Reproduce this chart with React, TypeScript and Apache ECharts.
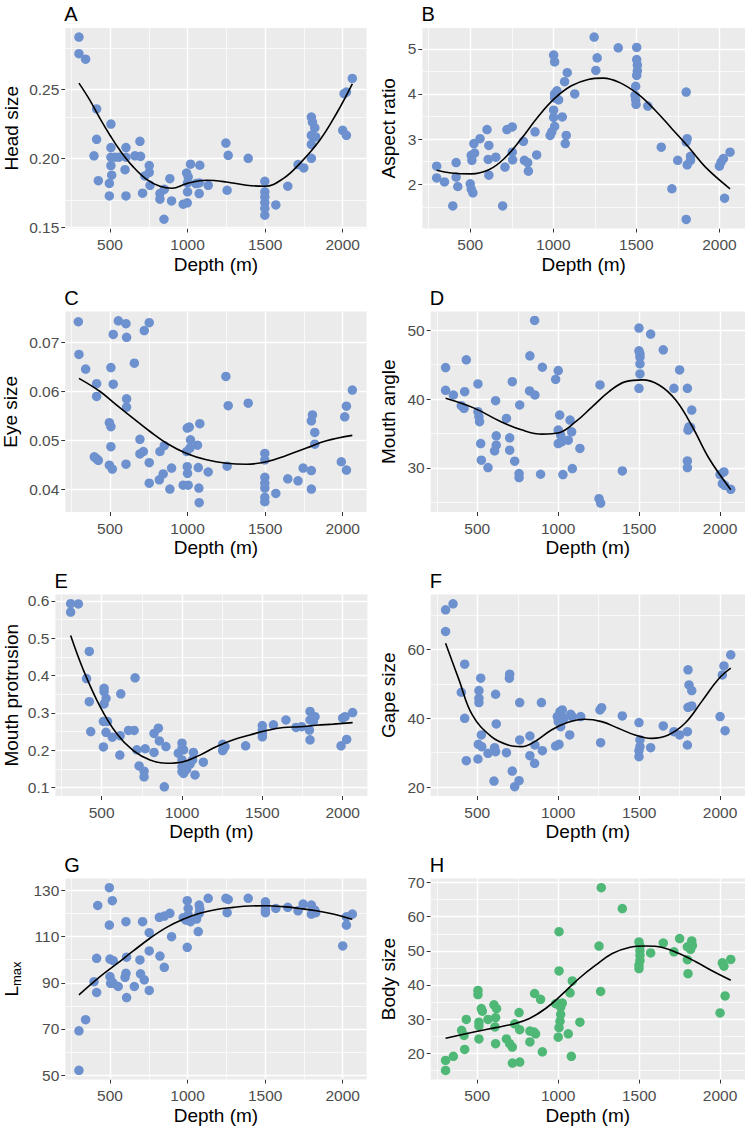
import React, { useEffect, useRef } from 'react';
import * as echarts from 'echarts';

const FONT = '"Liberation Sans", Arial, Helvetica, sans-serif';
const X_MIN = 212;
const X_MAX = 2154;
const depthBreaks = [500, 1000, 1500, 2000];
const depthMinor = [250, 750, 1250, 1750];
const BLUE = '#6D91CE';
const GREEN = '#4FB877';

// ---- A: Head size ----
const headSize: [number, number][] = [
  [300, 0.288], [300, 0.276], [343, 0.272], [414, 0.236], [414, 0.214], [397, 0.202], [425, 0.184],
  [506, 0.225], [506, 0.208], [506, 0.201], [506, 0.195], [511, 0.188], [496, 0.182], [496, 0.173],
  [532, 0.201], [558, 0.201], [603, 0.208], [603, 0.201], [597, 0.192], [603, 0.173], [661, 0.202],
  [693, 0.2125], [697, 0.2017], [710, 0.175], [725, 0.1875], [753, 0.19], [753, 0.195], [758, 0.1807],
  [822, 0.1747], [822, 0.1706], [850, 0.1778], [848, 0.1561], [886, 0.1855], [897, 0.1694],
  [972, 0.167], [998, 0.168], [994, 0.1896], [1004, 0.1867], [1000, 0.1824], [1000, 0.176],
  [1019, 0.196], [1054, 0.1819], [1075, 0.1747], [1079, 0.1952], [1075, 0.1824], [1133, 0.1807],
  [1247, 0.2113], [1262, 0.2024], [1255, 0.1771], [1391, 0.2002], [1498, 0.1836], [1498, 0.176],
  [1498, 0.1723], [1498, 0.1682], [1498, 0.1639], [1498, 0.159], [1569, 0.1665], [1646, 0.18],
  [1712, 0.1957], [1749, 0.1933], [1798, 0.2301], [1805, 0.2265], [1820, 0.2222], [1826, 0.2157],
  [1798, 0.2169], [1798, 0.2104], [1798, 0.2002], [2000, 0.2205], [2024, 0.2169], [2009, 0.247],
  [2024, 0.2482], [2062, 0.2581],
];
const headSizeFit: [number, number][] = [
  [300, 0.2547], [371, 0.2422], [436, 0.2289], [500, 0.2169], [564, 0.206], [650, 0.194],
  [736, 0.185], [822, 0.18], [900, 0.1785], [994, 0.1819], [1122, 0.1843], [1251, 0.1831],
  [1380, 0.1807], [1498, 0.18], [1616, 0.1855], [1723, 0.1964], [1852, 0.2133], [1959, 0.2325],
  [2062, 0.2542],
];

// ---- B: Aspect ratio ----
const aspectRatio: [number, number][] = [
  [298, 2.4], [298, 2.14], [345, 2.05], [415, 2.48], [395, 1.52], [415, 2.16], [425, 1.95],
  [500, 2.01], [506, 1.89], [516, 1.81], [506, 2.64], [510, 2.53], [522, 2.9], [526, 2.69],
  [559, 3.01], [601, 3.21], [612, 2.86], [608, 2.55], [612, 2.2], [654, 2.6], [695, 1.52],
  [709, 2.38], [721, 3.21], [753, 3.27], [753, 2.71], [755, 2.54], [820, 2.95], [826, 2.53],
  [846, 2.48], [850, 2.29], [890, 3.16], [900, 2.65], [981, 3.08], [991, 3.16], [1002, 4.86],
  [1008, 4.71], [1008, 4.0], [1002, 3.64], [1002, 3.48], [1008, 3.28], [1022, 4.07], [1032, 3.87],
  [1008, 3.91], [1054, 3.49], [1068, 4.27], [1084, 4.47], [1078, 3.08], [1072, 2.9], [1129, 4.0],
  [1246, 5.26], [1264, 4.8], [1256, 4.52], [1391, 5.02], [1502, 5.03], [1502, 4.76], [1506, 4.64],
  [1506, 4.51], [1502, 4.41], [1496, 4.17], [1492, 3.97], [1496, 3.87], [1498, 3.77], [1569, 3.73],
  [1650, 2.82], [1714, 1.9], [1749, 2.53], [1800, 4.04], [1806, 3.01], [1800, 2.94], [1806, 2.43],
  [1826, 2.62], [1826, 2.53], [1800, 1.22], [2000, 2.4], [2010, 2.49], [2024, 2.57], [2031, 1.69],
  [2064, 2.71],
];
const aspectRatioFit: [number, number][] = [
  [298, 2.31], [385, 2.25], [506, 2.23], [612, 2.32], [705, 2.57], [806, 3.0], [907, 3.49],
  [1008, 3.9], [1109, 4.18], [1210, 4.32], [1300, 4.35], [1400, 4.25], [1512, 3.99], [1613, 3.64],
  [1714, 3.23], [1815, 2.82], [1916, 2.38], [2064, 1.9],
];

// ---- C: Eye size ----
const eyeSize: [number, number][] = [
  [296, 0.0743], [300, 0.0676], [343, 0.0646], [414, 0.0616], [414, 0.059], [399, 0.0466],
  [414, 0.0462], [425, 0.0459], [554, 0.0745], [603, 0.0739], [521, 0.0717], [607, 0.0711],
  [506, 0.0649], [521, 0.0615], [607, 0.0585], [607, 0.0568], [657, 0.0658], [496, 0.0536],
  [506, 0.0528], [506, 0.0487], [496, 0.0449], [515, 0.0441], [603, 0.0451], [693, 0.0502],
  [693, 0.0472], [715, 0.0477], [721, 0.0725], [753, 0.0741], [753, 0.0454], [753, 0.0412],
  [818, 0.0419], [822, 0.0477], [850, 0.0489], [843, 0.0431], [897, 0.0443], [886, 0.04],
  [972, 0.0408], [1004, 0.0408], [998, 0.0525], [1011, 0.0527], [994, 0.0477], [1019, 0.0501],
  [1015, 0.0484], [998, 0.0446], [1000, 0.0432], [1069, 0.0444], [1064, 0.049], [1079, 0.0534],
  [1073, 0.0402], [1075, 0.0372], [1133, 0.0435], [1247, 0.0631], [1262, 0.0571], [1255, 0.0447],
  [1391, 0.0576], [1498, 0.0473], [1498, 0.046], [1498, 0.0424], [1498, 0.0412], [1498, 0.0402],
  [1498, 0.0383], [1498, 0.0374], [1569, 0.0391], [1646, 0.0421], [1712, 0.0417], [1745, 0.0443],
  [1798, 0.0438], [1798, 0.04], [1805, 0.0552], [1798, 0.054], [1820, 0.0516], [1820, 0.0492],
  [1991, 0.0456], [2024, 0.057], [2013, 0.0548], [2024, 0.0439], [2062, 0.0603],
];
const eyeSizeFit: [number, number][] = [
  [300, 0.0627], [436, 0.06], [543, 0.0572], [650, 0.0545], [758, 0.0518], [865, 0.0494],
  [994, 0.0473], [1122, 0.046], [1251, 0.0453], [1380, 0.0451], [1509, 0.0456], [1637, 0.0469],
  [1766, 0.0484], [1895, 0.0499], [2062, 0.051],
];

// ---- D: Mouth angle ----
const mouthAngle: [number, number][] = [
  [304, 44.56], [304, 41.26], [352, 40.58], [401, 39.03], [418, 38.64], [422, 41.07], [432, 45.68],
  [504, 42.18], [504, 38.16], [510, 37.43], [514, 36.7], [521, 33.54], [525, 31.12], [566, 30.05],
  [613, 39.76], [617, 34.66], [617, 33.3], [607, 32.48], [680, 37.18], [700, 34.37], [700, 32.57],
  [716, 42.52], [731, 30.97], [762, 39.13], [758, 29.17], [758, 28.59], [825, 46.26], [823, 41.17],
  [856, 40.58], [854, 51.41], [902, 44.61], [891, 29.08], [984, 42.86], [1000, 44.13], [1009, 37.67],
  [1000, 35.49], [1000, 33.54], [1015, 34.76], [1021, 33.79], [1029, 29.03], [1062, 34.03],
  [1073, 36.94], [1083, 35.24], [1087, 29.9], [1134, 32.82], [1252, 25.53], [1262, 24.9],
  [1258, 42.04], [1396, 29.56], [1499, 50.29], [1499, 46.99], [1505, 46.55], [1505, 46.07],
  [1505, 45.1], [1505, 43.64], [1499, 41.55], [1571, 49.42], [1649, 47.14], [1715, 41.55],
  [1750, 44.22], [1798, 41.55], [1825, 38.4], [1808, 35.97], [1802, 35.49], [1818, 35.87],
  [1798, 31.02], [1798, 30.05], [2000, 29.03], [2024, 29.42], [2014, 27.72], [2029, 27.48],
  [2066, 26.89],
];
const mouthAngleFit: [number, number][] = [
  [304, 40.1], [484, 38.64], [634, 36.84], [778, 35.49], [902, 34.9], [1005, 35.1], [1108, 36.7],
  [1211, 38.9], [1314, 41.07], [1417, 42.52], [1520, 42.77], [1623, 42.04], [1726, 39.85],
  [1829, 35.97], [1932, 31.36], [2066, 26.84],
];

// ---- E: Mouth protrusion ----
const mouthProtrusion: [number, number][] = [
  [307, 0.5925], [307, 0.57], [355, 0.5916], [423, 0.4646], [406, 0.392], [423, 0.33], [432, 0.25],
  [515, 0.366], [515, 0.357], [515, 0.324], [527, 0.339], [511, 0.277], [536, 0.277], [527, 0.248],
  [511, 0.209], [566, 0.235], [619, 0.351], [615, 0.239], [613, 0.187], [667, 0.253], [702, 0.253],
  [708, 0.394], [719, 0.201], [733, 0.158], [764, 0.144], [764, 0.129], [771, 0.204], [826, 0.245],
  [853, 0.259], [859, 0.225], [826, 0.194], [900, 0.21], [890, 0.102], [977, 0.192], [1000, 0.219],
  [1000, 0.205], [1010, 0.201], [1000, 0.174], [1000, 0.156], [1000, 0.143], [1010, 0.138],
  [1029, 0.149], [1050, 0.163], [1066, 0.174], [1071, 0.194], [1081, 0.134], [1133, 0.168],
  [1253, 0.216], [1257, 0.203], [1268, 0.21], [1253, 0.199], [1396, 0.212], [1500, 0.266],
  [1500, 0.254], [1500, 0.245], [1500, 0.236], [1569, 0.268], [1647, 0.281], [1710, 0.261],
  [1745, 0.263], [1797, 0.304], [1797, 0.281], [1818, 0.277], [1828, 0.29], [1793, 0.254],
  [1797, 0.228], [2000, 0.286], [2015, 0.29], [2025, 0.229], [1990, 0.212], [2062, 0.301],
];
const mouthProtrusionFit: [number, number][] = [
  [307, 0.507], [386, 0.415], [490, 0.317], [593, 0.245], [697, 0.199], [801, 0.174], [905, 0.165],
  [1008, 0.169], [1112, 0.187], [1216, 0.21], [1320, 0.228], [1423, 0.241], [1527, 0.253],
  [1631, 0.261], [1735, 0.263], [1838, 0.267], [1942, 0.27], [2062, 0.274],
];

// ---- F: Gape size ----
const gapeSize: [number, number][] = [
  [304, 71.55], [304, 65.24], [350, 73.3], [422, 55.73], [401, 47.57], [422, 40.0], [432, 27.67],
  [521, 51.65], [510, 48.06], [510, 45.83], [510, 44.56], [506, 32.43], [504, 28.16], [525, 35.15],
  [527, 31.75], [566, 29.8], [613, 46.99], [617, 38.35], [607, 31.46], [613, 30.29], [603, 21.75],
  [680, 30.0], [700, 52.82], [698, 51.65], [716, 24.66], [731, 20.1], [758, 21.84], [762, 44.56],
  [762, 33.7], [825, 34.85], [825, 29.13], [854, 26.89], [856, 32.23], [896, 44.56], [902, 30.58],
  [984, 31.94], [1005, 32.43], [994, 40.49], [1011, 41.94], [1025, 42.43], [1000, 39.03],
  [1015, 37.57], [1036, 40.0], [1077, 41.17], [1071, 35.15], [1087, 40.49], [1139, 40.49],
  [1258, 42.43], [1268, 43.1], [1262, 32.91], [1396, 40.68], [1499, 38.74], [1505, 33.69],
  [1505, 31.75], [1499, 30.58], [1499, 28.83], [1571, 31.46], [1649, 37.77], [1715, 36.12],
  [1750, 35.15], [1802, 54.08], [1808, 49.71], [1825, 48.06], [1802, 43.2], [1825, 43.59],
  [1798, 36.12], [1798, 32.23], [2000, 40.49], [2024, 55.24], [2014, 52.62], [2031, 36.41],
  [2066, 58.45],
];
const gapeSizeFit: [number, number][] = [
  [304, 61.84], [387, 51.17], [469, 40.97], [587, 34.66], [690, 32.23], [773, 31.75], [855, 33.2],
  [958, 36.6], [1061, 38.83], [1164, 39.71], [1268, 39.03], [1371, 37.09], [1474, 35.15],
  [1577, 34.17], [1680, 35.15], [1783, 38.54], [1886, 44.85], [1989, 51.36], [2066, 54.56],
];

// ---- G: Lmax ----
const lMax: [number, number][] = [
  [300, 52.1], [300, 69.2], [343, 74.0], [397, 90.5], [414, 85.8], [414, 100.6], [421, 123.5],
  [496, 131.2], [515, 125.6], [496, 115.0], [500, 100.3], [521, 99.6], [500, 92.7], [511, 90.5],
  [504, 89.8], [521, 89.8], [553, 88.4], [603, 116.5], [607, 101.1], [603, 94.1], [597, 92.4],
  [607, 83.6], [657, 88.4], [710, 116.5], [693, 99.9], [697, 93.9], [721, 91.3], [753, 111.7],
  [753, 103.8], [753, 86.7], [822, 101.6], [818, 118.4], [850, 118.9], [850, 96.7], [886, 120.1],
  [897, 110.0], [972, 118.2], [998, 125.6], [1004, 122.2], [1004, 119.4], [990, 117.2],
  [998, 105.4], [1019, 116.5], [1058, 117.6], [1075, 120.1], [1075, 123.7], [1079, 122.0],
  [1069, 112.2], [1133, 126.6], [1247, 126.6], [1262, 126.1], [1255, 120.4], [1391, 126.6],
  [1502, 125.1], [1502, 123.3], [1502, 121.5], [1502, 120.4], [1569, 122.2], [1646, 122.7],
  [1712, 121.2], [1745, 124.1], [1798, 123.7], [1798, 119.8], [1820, 121.5], [1826, 120.4],
  [2000, 106.0], [2024, 118.6], [2024, 115.0], [2062, 119.8],
];
const lMaxFit: [number, number][] = [
  [300, 84.8], [436, 92.7], [543, 98.2], [650, 103.8], [758, 109.3], [865, 114.0], [972, 117.5],
  [1079, 120.1], [1187, 121.8], [1294, 122.7], [1401, 123.3], [1509, 123.4], [1616, 123.0],
  [1723, 122.2], [1831, 121.2], [1938, 119.8], [2062, 117.5],
];

// ---- H: Body size ----
const bodySize: [number, number][] = [
  [304, 14.95], [304, 17.9], [352, 19.1], [403, 26.7], [418, 25.2], [432, 29.9], [422, 21.1],
  [504, 38.4], [504, 37.2], [510, 29.1], [510, 28.0], [510, 24.2], [525, 33.1], [531, 32.3],
  [566, 29.9], [603, 34.2], [619, 33.1], [613, 30.4], [609, 27.7], [613, 22.8], [680, 24.2],
  [700, 22.8], [716, 21.8], [717, 17.1], [731, 28.6], [758, 31.9], [762, 26.9], [762, 17.4],
  [825, 26.5], [825, 23.3], [850, 26.2], [854, 37.5], [860, 25.7], [891, 35.8], [902, 20.4],
  [984, 34.5], [1005, 55.6], [1005, 44.1], [1005, 34.5], [1015, 33.5], [1015, 31.4], [1011, 29.4],
  [1005, 27.5], [1000, 24.7], [1025, 34.7], [1062, 25.7], [1073, 37.7], [1087, 41.2], [1081, 19.1],
  [1134, 29.1], [1252, 51.4], [1262, 38.1], [1266, 68.5], [1396, 62.4], [1499, 52.6], [1505, 51.4],
  [1505, 50.0], [1505, 48.7], [1505, 47.2], [1499, 45.8], [1499, 44.8], [1571, 49.4], [1649, 52.3],
  [1715, 49.7], [1750, 53.6], [1798, 51.2], [1825, 52.9], [1829, 51.6], [1818, 50.4], [1798, 47.4],
  [1802, 43.3], [2000, 31.8], [2014, 46.5], [2024, 45.5], [2031, 36.8], [2066, 47.5],
];
const bodySizeFit: [number, number][] = [
  [304, 24.4], [407, 25.5], [510, 26.5], [613, 27.5], [716, 28.5], [819, 30.1], [922, 33.1],
  [1025, 37.3], [1128, 41.9], [1231, 45.8], [1334, 49.2], [1438, 51.0], [1541, 51.4], [1644, 51.0],
  [1747, 49.2], [1850, 46.8], [1953, 44.1], [2066, 41.4],
];

// ---- y-axis breaks ----
const headSizeTicks = [0.15, 0.2, 0.25];
const headSizeMinor = [0.175, 0.225, 0.275];
const aspectTicks = [2, 3, 4, 5];
const aspectMinor = [1.5, 2.5, 3.5, 4.5];
const eyeTicks = [0.04, 0.05, 0.06, 0.07];
const eyeMinor = [0.045, 0.055, 0.065, 0.075];
const angleTicks = [30, 40, 50];
const angleMinor = [25, 35, 45];
const protTicks = [0.1, 0.2, 0.3, 0.4, 0.5, 0.6];
const protMinor = [0.15, 0.25, 0.35, 0.45, 0.55];
const gapeTicks = [20, 40, 60];
const gapeMinor = [30, 50, 70];
const lmaxTicks = [50, 70, 90, 110, 130];
const lmaxMinor = [60, 80, 100, 120];
const bodyTicks = [20, 30, 40, 50, 60, 70];
const bodyMinor = [15, 25, 35, 45, 55, 65];

type Panel = {
  tag: string; name: string; pts: [number, number][]; fit: [number, number][];
  yMin: number; yMax: number; major: number[]; minor: number[]; dec: number; color: string;
  box: [number, number, number, number]; nameGap: number; rich?: boolean;
};

const panels: Panel[] = [
  { tag: 'A', name: 'Head size', pts: headSize, fit: headSizeFit, yMin: 0.1494, yMax: 0.2946, major: headSizeTicks, minor: headSizeMinor, dec: 2, color: BLUE, box: [65.3, 28, 301.3, 200.5], nameGap: 44 },
  { tag: 'B', name: 'Aspect ratio', pts: aspectRatio, fit: aspectRatioFit, yMin: 1.02, yMax: 5.46, major: aspectTicks, minor: aspectMinor, dec: 0, color: BLUE, box: [422.4, 28, 322.6, 200.5], nameGap: 24 },
  { tag: 'C', name: 'Eye size', pts: eyeSize, fit: eyeSizeFit, yMin: 0.0353, yMax: 0.0764, major: eyeTicks, minor: eyeMinor, dec: 2, color: BLUE, box: [65.3, 311.5, 301.3, 200.5], nameGap: 45 },
  { tag: 'D', name: 'Mouth angle', pts: mouthAngle, fit: mouthAngleFit, yMin: 23.6, yMax: 52.7, major: angleTicks, minor: angleMinor, dec: 0, color: BLUE, box: [430.7, 311.5, 314.3, 200.5], nameGap: 33 },
  { tag: 'E', name: 'Mouth protrusion', pts: mouthProtrusion, fit: mouthProtrusionFit, yMin: 0.0775, yMax: 0.617, major: protTicks, minor: protMinor, dec: 1, color: BLUE, box: [55.4, 594.5, 312, 201.5], nameGap: 34 },
  { tag: 'F', name: 'Gape size', pts: gapeSize, fit: gapeSizeFit, yMin: 17.4, yMax: 76.0, major: gapeTicks, minor: gapeMinor, dec: 0, color: BLUE, box: [430.7, 594.5, 314.3, 201.5], nameGap: 33 },
  { tag: 'G', name: '{l|L}{s|max}', pts: lMax, fit: lMaxFit, yMin: 48.1, yMax: 135.2, major: lmaxTicks, minor: lmaxMinor, dec: 0, color: BLUE, box: [65.3, 878.5, 301.3, 201], nameGap: 42, rich: true },
  { tag: 'H', name: 'Body size', pts: bodySize, fit: bodySizeFit, yMin: 12.3, yMax: 71.2, major: bodyTicks, minor: bodyMinor, dec: 0, color: GREEN, box: [430.7, 878.5, 314.3, 201], nameGap: 33 },
];

function buildOption() {
  const grid = panels.map((p) => ({
    left: p.box[0], top: p.box[1], width: p.box[2], height: p.box[3],
    show: true, backgroundColor: '#EBEBEB', borderWidth: 0, containLabel: false, outerBoundsMode: 'none',
  }));
  const xAxis = panels.map((p, i) => ({
    type: 'value', gridIndex: i, min: X_MIN, max: X_MAX,
    name: 'Depth (m)', nameLocation: 'middle', nameGap: 26,
    nameTextStyle: { fontSize: 19, color: '#000', fontFamily: FONT },
    axisLine: { show: false },
    axisTick: { show: true, length: 4, lineStyle: { color: '#333333', width: 1 }, customValues: depthBreaks },
    axisLabel: { customValues: depthBreaks, color: '#4D4D4D', fontSize: 15.5, margin: 8, fontFamily: FONT,
      formatter: (v: number) => String(v) },
    splitLine: { show: false },
  }));
  const yAxis = panels.map((p, i) => ({
    type: 'value', gridIndex: i, min: p.yMin, max: p.yMax,
    name: p.name, nameLocation: 'middle', nameGap: p.nameGap,
    nameTextStyle: p.rich
      ? { color: '#000', fontFamily: FONT, rich: {
          l: { fontSize: 19, color: '#000', fontFamily: FONT },
          s: { fontSize: 13, color: '#000', fontFamily: FONT, padding: [11, 0, 0, 0] },
        } }
      : { fontSize: 19, color: '#000', fontFamily: FONT },
    axisLine: { show: false },
    axisTick: { show: true, length: 4, lineStyle: { color: '#333333', width: 1 }, customValues: p.major },
    axisLabel: { customValues: p.major, color: '#4D4D4D', fontSize: 15.5, margin: 6, fontFamily: FONT,
      formatter: (v: number) => v.toFixed(p.dec) },
    splitLine: { show: false },
  }));
  const series: any[] = [];
  panels.forEach((p, i) => {
    const gridLines = [
      ...depthMinor.map((v) => ({ xAxis: v, lineStyle: { color: '#FFFFFF', width: 0.7, type: 'solid' } })),
      ...p.minor.map((v) => ({ yAxis: v, lineStyle: { color: '#FFFFFF', width: 0.7, type: 'solid' } })),
      ...depthBreaks.map((v) => ({ xAxis: v, lineStyle: { color: '#FFFFFF', width: 1.4, type: 'solid' } })),
      ...p.major.map((v) => ({ yAxis: v, lineStyle: { color: '#FFFFFF', width: 1.4, type: 'solid' } })),
    ];
    series.push({
      type: 'scatter', xAxisIndex: i, yAxisIndex: i, data: [], silent: true, z: 1,
      markLine: {
        silent: true, symbol: ['none', 'none'], label: { show: false }, animation: false, z: 1,
        lineStyle: { type: 'solid', color: '#FFFFFF' }, emphasis: { disabled: true },
        data: gridLines,
      },
    });
    series.push({
      type: 'scatter', xAxisIndex: i, yAxisIndex: i, data: p.pts, symbolSize: 9.5, z: 2,
      itemStyle: { color: p.color, opacity: 1 }, silent: true,
    });
    series.push({
      type: 'line', xAxisIndex: i, yAxisIndex: i, data: p.fit, smooth: 0.4, showSymbol: false,
      symbol: 'none', z: 3, silent: true, lineStyle: { color: '#000000', width: 1.6 },
    });
  });
  const title = panels.map((p) => ({
    text: p.tag, left: p.box[0] - 1, top: p.box[1] - 24, padding: 0,
    textStyle: { fontSize: 20, fontWeight: 'normal', color: '#000', fontFamily: FONT },
  }));
  return { animation: false, backgroundColor: '#FFFFFF', title, grid, xAxis, yAxis, series };
}

export default function App() {
  const ref = useRef<HTMLDivElement>(null);
  useEffect(() => {
    if (!ref.current) return;
    const chart = echarts.init(ref.current, undefined, { renderer: 'svg' });
    chart.setOption(buildOption() as any);
    return () => chart.dispose();
  }, []);
  return (
    <div
      ref={ref}
      style={{ position: 'absolute', left: 0, top: 0, width: 745, height: 1130, background: '#fff' }}
    />
  );
}
